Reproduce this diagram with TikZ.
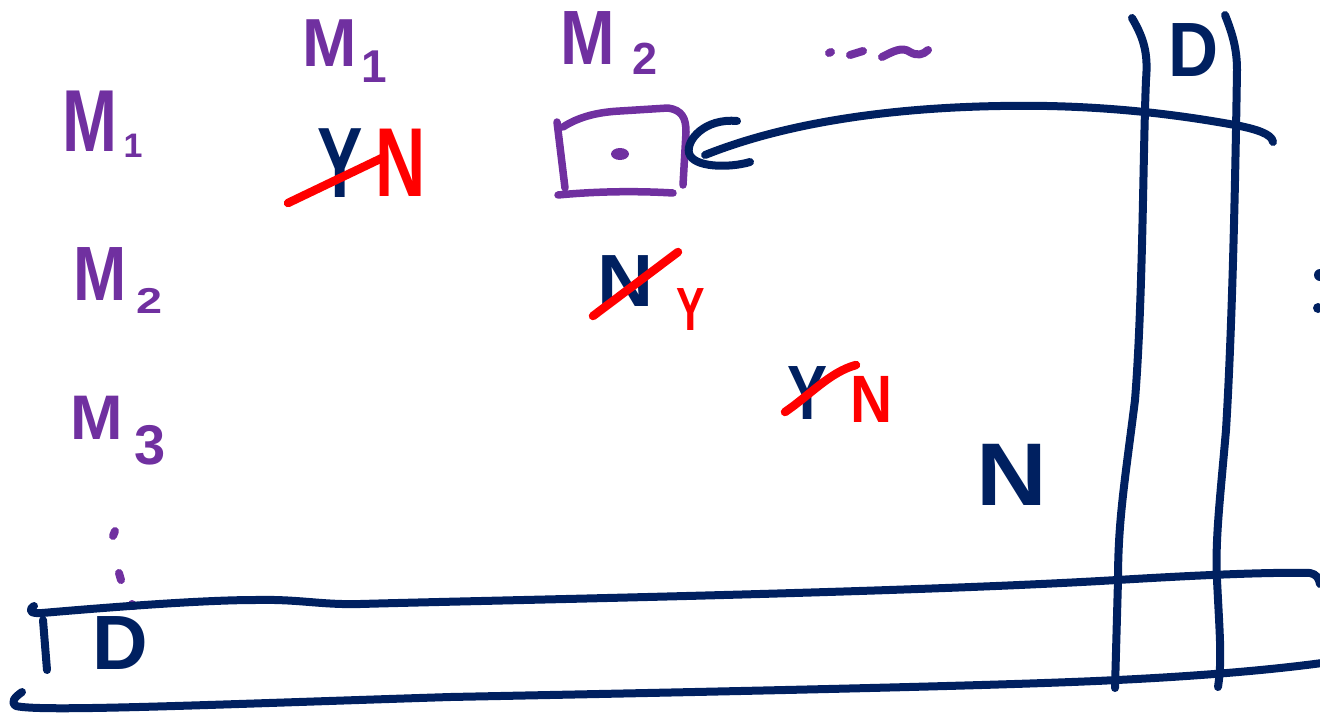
\documentclass[tikz,border=0pt]{standalone}
\usepackage{fontspec}
\setmainfont{Liberation Sans}
\definecolor{pur}{HTML}{7030A0}
\definecolor{nav}{HTML}{002060}
\definecolor{rd}{HTML}{FF0000}
\newcommand{\hw}[3]{\scalebox{#2}[1]{\fontsize{#1}{#1}\selectfont\bfseries #3}}
\begin{document}
\begin{tikzpicture}[x=1pt,y=-1pt,
  pl/.style={text=pur,inner sep=0pt},
  nl/.style={text=nav,inner sep=0pt},
  rl/.style={text=rd,inner sep=0pt},
  strike/.style={draw=rd,line width=8.5pt,line cap=round},
  pen/.style={draw=nav,line width=8pt,line cap=round,line join=round},
  ppen/.style={draw=pur,line width=7.5pt,line cap=round,line join=round}]
\useasboundingbox (0,0) rectangle (1320,713);

% row labels
\node[pl] (r1) at (90,121) {\hw{88}{0.75}{M}};
\node[pl] (r1s) at (133,146) {\hw{34}{1}{1}};
\node[pl] (r2) at (100,274) {\hw{77}{0.83}{M}};
\node[pl] (r2s) at (150,301) {\hw{36}{1.3}{2}};
\node[pl] (r3) at (97,418) {\hw{63}{1}{M}};
\node[pl] (r3s) at (150,445) {\hw{56}{1}{3}};
\draw[ppen,line width=8pt] (115,531) -- (113,536);
\draw[ppen,line width=8pt] (119,573) -- (121,580);
\draw[ppen,line width=8pt] (132,604) -- (134,606);

% column labels
\node[pl] (c1) at (330,43) {\hw{68}{0.96}{M}};
\node[pl] (c1s) at (374,67) {\hw{46}{1}{1}};
\node[pl] (c2) at (588,38) {\hw{77}{0.85}{M}};
\node[pl] (c2s) at (645,59) {\hw{45}{1}{2}};
\draw[ppen,line width=8pt] (829,53) -- (831,52);
\draw[ppen,line width=8pt] (850,55) -- (863,51);
\draw[ppen,line width=8pt] (882,57) .. controls (892,52) and (902,46) .. (910,52) .. controls (917,56) and (923,55) .. (928,50);

% cell (1,1)
\node[nl] (y1) at (340,163) {\hw{100}{0.68}{Y}};
\node[rl] (n1) at (401,163) {\hw{98}{0.71}{N}};
\draw[strike] (288,203) -- (382,158);

% cell (1,2): box
\draw[ppen] (557,122) -- (565,188);
\draw[ppen] (563,127) .. controls (580,116) and (600,112) .. (620,111) -- (668,108) .. controls (682,110) and (686,118) .. (686,132) -- (683,185);
\draw[ppen] (558,195) .. controls (600,191) and (640,191) .. (673,193);
\fill[pur] (620,154) ellipse [x radius=9pt, y radius=6pt];
\coordinate (box) at (687,153);

% cell (2,2)
\node[nl] (n2) at (626,281) {\hw{74}{1.05}{N}};
\node[rl] (y2) at (691,310) {\hw{61}{0.7}{Y}};
\draw[strike] (593,316) -- (678,252);

% cell (3,3)
\node[nl] (y3) at (808,393) {\hw{77}{0.78}{Y}};
\node[rl] (n3) at (872,399) {\hw{67}{0.87}{N}};
\draw[strike] (785,412) .. controls (810,395) and (830,372) .. (856,365);

% big N
\node[nl] (n4) at (1012,475) {\hw{89}{1.1}{N}};

% D labels
\node[nl] (dtop) at (1194,50) {\hw{77}{0.9}{D}};
\node[nl] (dbot) at (120,643) {\hw{77}{1}{D}};

% connector with C-shaped end at the box
\coordinate (cend) at (1273,142);
\coordinate (ctip) at (705,155);
\draw[pen] (737,121) .. controls (705,118) and (686,140) .. (689,153) .. controls (693,168) and (730,168) .. (750,162);
\draw[pen] (cend) .. controls (1272,134) and (1256,129) .. (1235,125) .. controls (1180,115) and (1100,104) .. (1000,106) .. controls (880,108) and (780,125) .. (ctip);

% vertical band
\draw[pen] (1132,18) .. controls (1145,40) and (1148,55) .. (1146,80) .. controls (1143,150) and (1143,300) .. (1135,400) .. controls (1125,480) and (1118,520) .. (1118,580) -- (1115,688);
\draw[pen] (1225,15) .. controls (1233,35) and (1237,50) .. (1237,70) .. controls (1235,200) and (1232,330) .. (1226,430) .. controls (1220,500) and (1215,540) .. (1217,580) .. controls (1220,640) and (1222,660) .. (1218,687);

% horizontal band
\draw[pen] (34,606) .. controls (28,610) and (30,614) .. (42,613) .. controls (100,608) and (200,600) .. (255,600) .. controls (300,599) and (320,605) .. (360,604) .. controls (500,600) and (900,593) .. (1117,580) .. controls (1200,575) and (1270,572) .. (1310,573) .. controls (1316,574) and (1319,578) .. (1320,584);
\draw[pen] (22,692) .. controls (15,697) and (10,702) .. (16,706) .. controls (40,712) and (200,705) .. (450,697) .. controls (700,692) and (1000,686) .. (1117,680) .. controls (1200,676) and (1270,670) .. (1322,663);
\draw[pen] (43,620) -- (47,670);

% fragment at right edge
\fill[nav] (1320,275) circle (6pt);
\fill[nav] (1318,308) circle (5pt);
\end{tikzpicture}
\end{document}
